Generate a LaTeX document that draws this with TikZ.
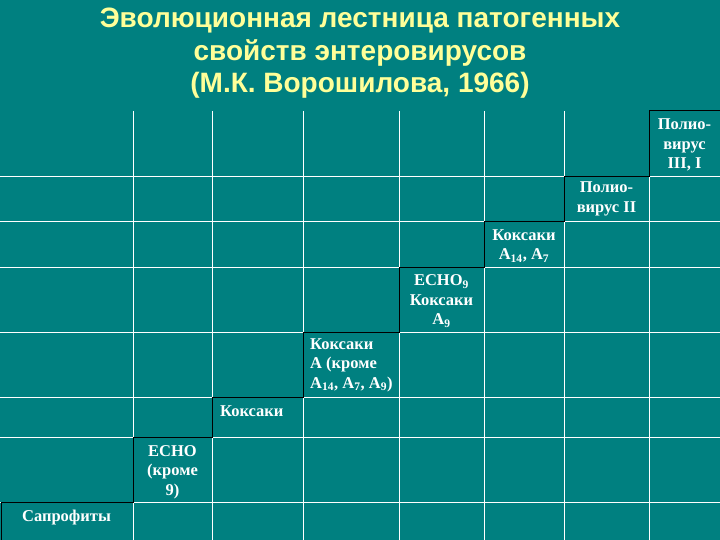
\documentclass[tikz,border=0pt]{standalone}
\usepackage{fontspec}
\setmainfont{Liberation Serif}
\newfontfamily\titlefont{Liberation Sans}
\usepackage{tikz}
\definecolor{bg}{RGB}{0, 128, 128}
\definecolor{ty}{RGB}{255, 255, 153}
\usetikzlibrary{positioning}

\begin{document}
\begin{tikzpicture}[cell/.style={inner sep=0pt, text=white, font=\fontsize{16.5}{19.5}\selectfont\bfseries, align=center},
grid/.style={line width=1pt, color=white},
stair/.style={line width=1pt, color=black}]
\fill [bg] (0pt, 0pt) rectangle (720pt, -540pt);
\useasboundingbox (0pt, 0pt) rectangle (720pt, -540pt);
% title
\node (title) [inner sep=0pt, anchor=north, align=center, text=ty, font=\titlefont\fontsize{28}{32.5}\selectfont\bfseries] at (360.0pt, -8.0pt) {Эволюционная лестница патогенных\\свойств энтеровирусов\\(М.К. Ворошилова, 1966)};
% grid
\draw [grid] (133.0pt, -111.0pt) to (133.0pt, -540.0pt);
\draw [grid] (212.0pt, -111.0pt) to (212.0pt, -540.0pt);
\draw [grid] (303.0pt, -111.0pt) to (303.0pt, -540.0pt);
\draw [grid] (399.0pt, -111.0pt) to (399.0pt, -540.0pt);
\draw [grid] (484.0pt, -111.0pt) to (484.0pt, -540.0pt);
\draw [grid] (564.0pt, -111.0pt) to (564.0pt, -540.0pt);
\draw [grid] (649.0pt, -111.0pt) to (649.0pt, -540.0pt);
\draw [grid] (0.0pt, -177.0pt) to (720.0pt, -177.0pt);
\draw [grid] (0.0pt, -222.0pt) to (720.0pt, -222.0pt);
\draw [grid] (0.0pt, -267.0pt) to (720.0pt, -267.0pt);
\draw [grid] (0.0pt, -332.0pt) to (720.0pt, -332.0pt);
\draw [grid] (0.0pt, -397.0pt) to (720.0pt, -397.0pt);
\draw [grid] (0.0pt, -437.0pt) to (720.0pt, -437.0pt);
\draw [grid] (0.0pt, -502.0pt) to (720.0pt, -502.0pt);
% staircase
\draw [stair] (1.0pt, -540.0pt) -- (1.0pt, -502.0pt) -- (133.0pt, -502.0pt) -- (133.0pt, -437.0pt) -- (212.0pt, -437.0pt) -- (212.0pt, -397.0pt) -- (303.0pt, -397.0pt) -- (303.0pt, -332.0pt) -- (399.0pt, -332.0pt) -- (399.0pt, -267.0pt) -- (484.0pt, -267.0pt) -- (484.0pt, -222.0pt) -- (564.0pt, -222.0pt) -- (564.0pt, -177.0pt) -- (649.0pt, -177.0pt) -- (649.0pt, -111.0pt) -- (720.0pt, -111.0pt);
% cells
\node (1) [cell] at (66.5pt, -518.0pt) {Сапрофиты};
\node (2) [cell] at (172.5pt, -472.0pt) {ECHO\\(кроме\\9)};
\node (3) [cell, anchor=west] at (220.0pt, -411.0pt) {Коксаки};
\node (4) [cell, anchor=west, align=left] at (310.0pt, -365.0pt) {Коксаки\\А (кроме\\А\textsubscript{14}, А\textsubscript{7}, А\textsubscript{9})};
\node (5) [cell] at (441.5pt, -301.0pt) {ECHO\textsubscript{9}\\Коксаки\\А\textsubscript{9}};
\node (6) [cell] at (524.0pt, -246.0pt) {Коксаки\\А\textsubscript{14}, А\textsubscript{7}};
\node (7) [cell] at (606.5pt, -199.0pt) {Полио-\\вирус II};
\node (8) [cell] at (684.5pt, -145.0pt) {Полио-\\вирус\\III, I};
\end{tikzpicture}
\end{document}
